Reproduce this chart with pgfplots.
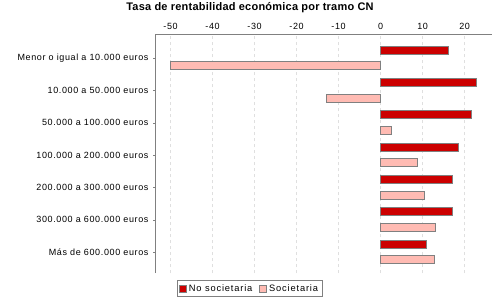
\documentclass[border=0pt]{standalone}
\usepackage{fontspec}
\setmainfont{Liberation Sans}
\newfontfamily\lab{Liberation Sans}[LetterSpace=7]
\newfontfamily\leg{Liberation Sans}[LetterSpace=9]
\newfontfamily\ttl{Liberation Sans}[LetterSpace=2]
\usepackage{pgfplots}
\pgfplotsset{compat=1.18}
\definecolor{ns}{HTML}{CC0000}
\definecolor{soc}{HTML}{FFBBB3}
\definecolor{edge}{HTML}{808080}
\begin{document}
\begin{tikzpicture}
\useasboundingbox (0pt,0pt) rectangle (500pt,-300pt);
\node[font=\ttl\fontsize{11}{13}\selectfont\bfseries] at (250pt,-7.5pt) {Tasa de rentabilidad económica por tramo CN};
\begin{axis}[
  at={(155pt,-34pt)}, anchor=north west,
  scale only axis, width=337pt, height=239pt,
  xbar, bar width=8pt,
  xmin=-53.7, xmax=26.5,
  ymin=-0.65, ymax=6.74,
  axis x line=top, axis y line=left,
  axis line style={-, draw=edge, line width=0.8pt},
  xtick={-50,-40,...,20},
  ytick={0,...,6},
  yticklabels={Más de 600.000 euros, 300.000 a 600.000 euros, 200.000 a 300.000 euros, 100.000 a 200.000 euros, 50.000 a 100.000 euros, 10.000 a 50.000 euros, Menor o igual a 10.000 euros},
  tick align=outside, major tick length=2pt,
  tick style={draw=edge},
  xtick style={draw=none},
  xmajorgrids, grid style={dashed, draw=gray!25},
  ticklabel style={font=\lab\fontsize{9}{11}\selectfont},
  /pgf/number format/assume math mode=true,
  xticklabel style={yshift=-1.5pt},
  yticklabel style={xshift=-1pt},
  legend style={at={(0.065,-0.03)}, anchor=north west, draw=edge, legend columns=2,
    font=\leg\fontsize{9.3}{11}\selectfont, inner sep=2pt,
    /tikz/every even column/.append style={column sep=5pt}},
  legend image code/.code={\draw[#1, draw=edge] (0pt,-3.5pt) rectangle (7pt,3.5pt);},
]
\addplot[fill=ns, draw=edge, line width=0.8pt, bar shift=7.8pt] coordinates {
 (10.8,0) (17.1,1) (17.1,2) (18.5,3) (21.5,4) (22.8,5) (16.1,6)};
\addplot[fill=soc, draw=edge, line width=0.8pt, bar shift=-7.8pt] coordinates {
 (12.7,0) (13.1,1) (10.4,2) (8.8,3) (2.6,4) (-12.8,5) (-50,6)};
\legend{No societaria, Societaria}
\end{axis}
\end{tikzpicture}
\end{document}
